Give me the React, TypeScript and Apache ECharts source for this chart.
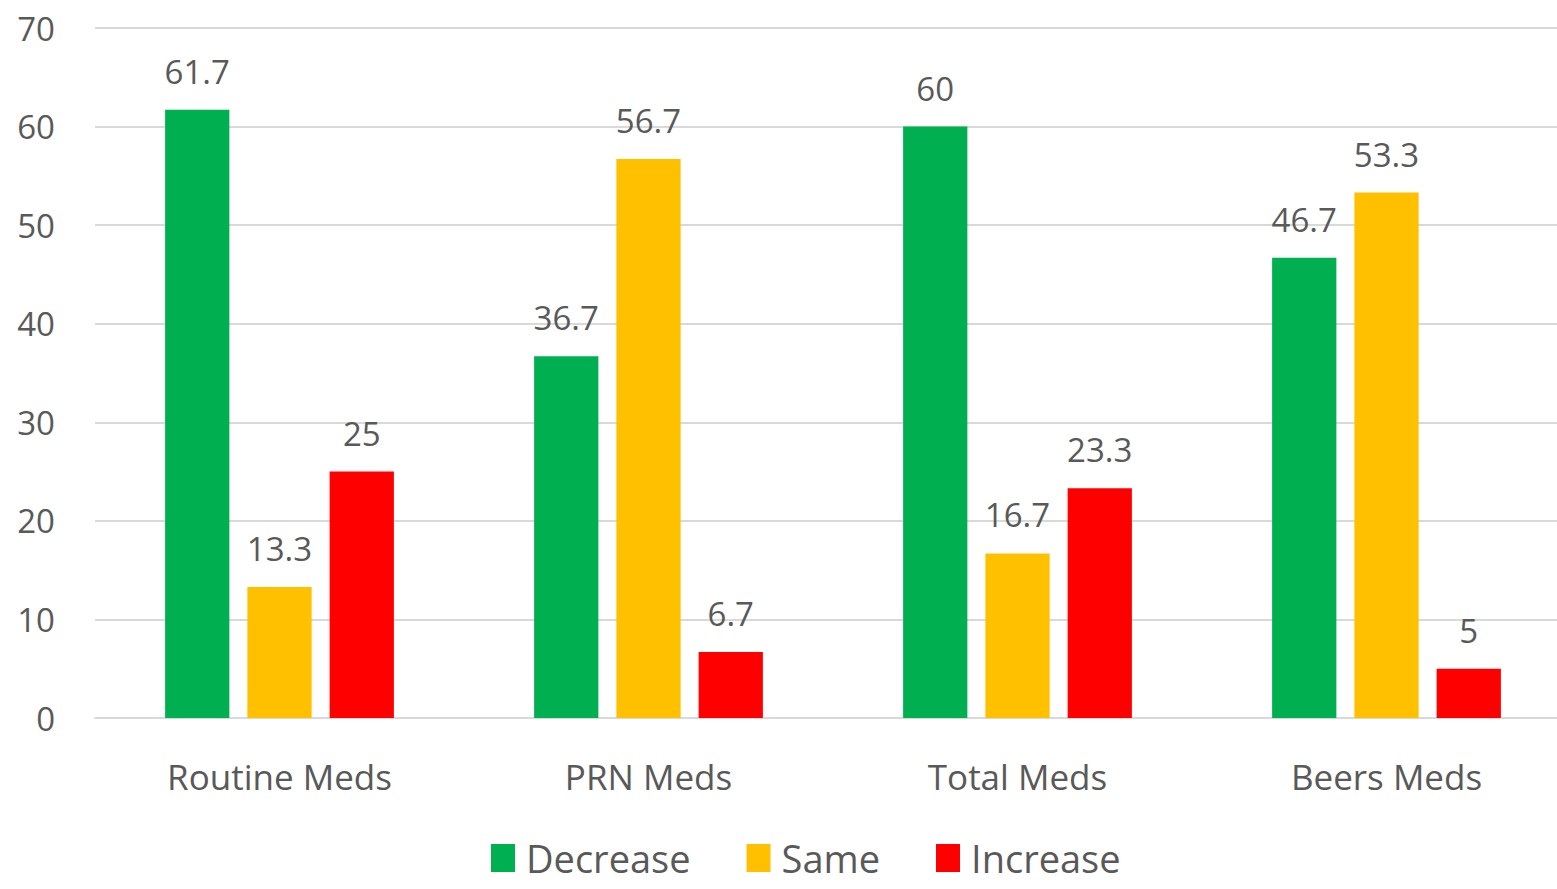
import React, { useEffect, useRef } from "react";
import * as echarts from "echarts";

const categories = ["Routine Meds", "PRN Meds", "Total Meds", "Beers Meds"];
const decrease = [61.7, 36.7, 60, 46.7];
const same = [13.3, 56.7, 16.7, 53.3];
const increase = [25, 6.7, 23.3, 5];
const seriesNames = ["Decrease", "Same", "Increase"];
const colors = ["#00B050", "#FFC000", "#FF0000"];

const FONT = "'Open Sans', sans-serif";
const TEXT = "#595959";

export default function App() {
  const ref = useRef<HTMLDivElement>(null);
  useEffect(() => {
    if (!ref.current) return;
    const chart = echarts.init(ref.current, null, { renderer: "svg" });
    const data = [decrease, same, increase];
    chart.setOption({
      animation: false,
      backgroundColor: "#ffffff",
      textStyle: { fontFamily: FONT },
      grid: { left: 95, top: 28, width: 1476, height: 690, containLabel: false },
      legend: {
        left: 486,
        top: 834,
        itemWidth: 24,
        itemHeight: 28,
        itemGap: 56,
        icon: "rect",
        data: seriesNames,
        textStyle: { fontFamily: FONT, fontSize: 38, color: TEXT, padding: [0, 0, 0, 6], lineHeight: 38 },
      },
      xAxis: {
        type: "category",
        data: categories,
        axisLine: { show: true, lineStyle: { color: "#D9D9D9", width: 2 } },
        axisTick: { show: false },
        axisLabel: { fontFamily: FONT, fontSize: 35, color: TEXT, margin: 41, lineHeight: 35 },
      },
      yAxis: {
        type: "value",
        min: 0,
        max: 70,
        interval: 10,
        axisLine: { show: false },
        axisTick: { show: false },
        splitLine: { lineStyle: { color: "#D9D9D9", width: 2 } },
        axisLabel: { fontFamily: FONT, fontSize: 33, color: TEXT, margin: 40 },
      },
      series: seriesNames.map((name, i) => ({
        name,
        type: "bar",
        data: data[i],
        barGap: "28%",
        barCategoryGap: "38%",
        itemStyle: { color: colors[i] },
        label: {
          show: true,
          position: "top",
          distance: 22,
          fontFamily: FONT,
          fontSize: 33,
          color: TEXT,
        },
      })),
    });
    return () => chart.dispose();
  }, []);
  return (
    <div
      ref={ref}
      style={{ position: "fixed", left: 0, top: 0, width: 1575, height: 889 }}
    />
  );
}
